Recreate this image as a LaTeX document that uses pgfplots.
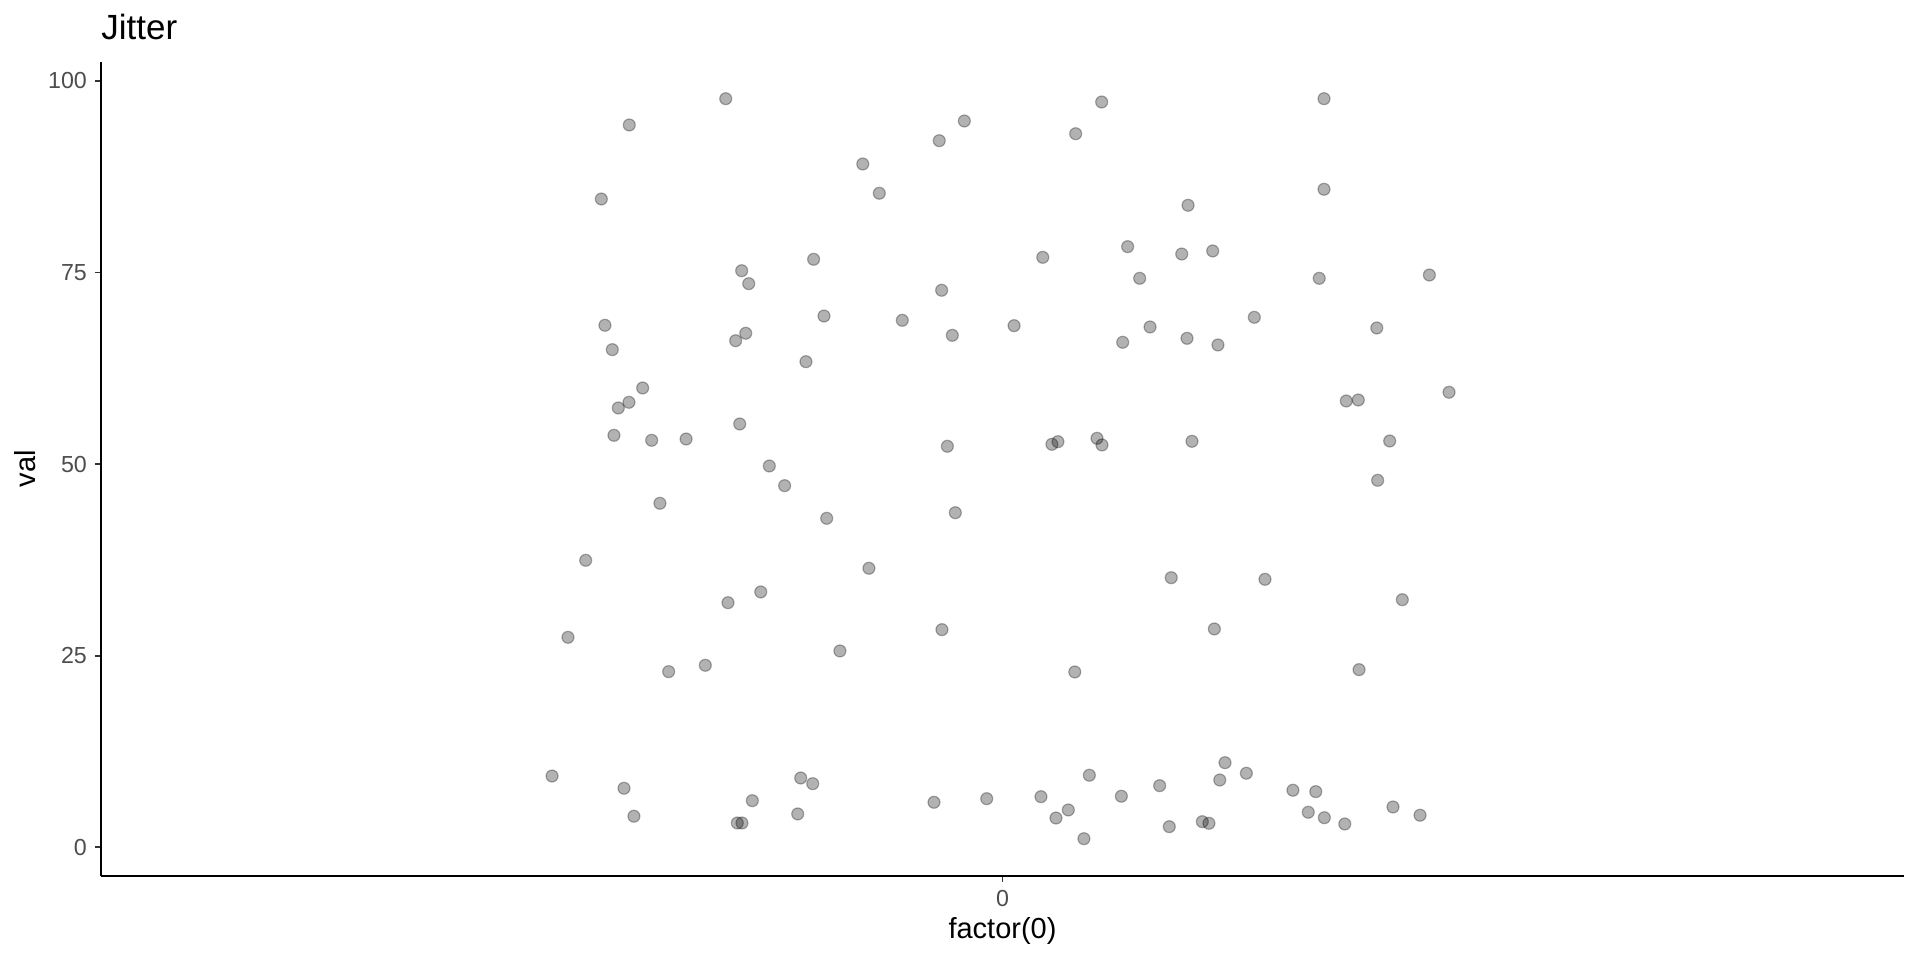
\documentclass[border=0pt]{standalone}
\usepackage{pgfplots}
\pgfplotsset{compat=1.18}
\usepackage{fontspec}
\setmainfont{Liberation Sans}
\definecolor{tickgray}{HTML}{4D4D4D}
\definecolor{tickline}{HTML}{333333}

\pgfplotstableread{
x y
-0.1842 97.69
-0.2484 94.26
-0.0254 94.78
-0.0421 92.21
-0.0930 89.17
-0.0820 85.35
-0.2670 84.60
-0.1257 76.73
-0.1736 75.24
-0.1689 73.55
-0.0405 72.69
-0.2646 68.12
-0.1188 69.33
-0.0667 68.77
-0.0334 66.81
-0.1709 67.08
-0.1776 66.11
-0.2597 64.94
-0.1308 63.37
-0.2395 59.94
-0.2486 58.07
-0.2557 57.33
-0.2586 53.76
-0.2335 53.11
-0.2106 53.28
-0.1749 55.24
-0.0367 52.33
-0.1552 49.76
0.0660 97.26
0.0487 93.12
0.2140 97.69
0.2140 85.87
0.1235 83.78
0.0833 78.38
0.0268 76.99
0.1193 77.42
0.1399 77.82
0.0913 74.25
0.2108 74.25
0.2841 74.68
0.0077 68.07
0.0982 67.90
0.0800 65.90
0.1228 66.42
0.1434 65.55
0.1676 69.16
0.2491 67.77
0.2288 58.24
0.2368 58.37
0.2972 59.38
0.0329 52.59
0.0369 52.93
0.0629 53.37
0.0662 52.50
0.1261 52.98
0.2577 53.02
-0.1450 47.19
-0.2280 44.89
-0.1170 42.93
-0.0314 43.66
-0.2774 37.45
-0.0889 36.41
-0.1609 33.32
-0.1827 31.92
-0.2892 27.40
-0.1082 25.62
-0.0403 28.40
-0.2222 22.92
-0.1978 23.75
-0.2998 9.30
-0.2519 7.70
-0.2453 4.05
-0.1343 9.04
-0.1263 8.30
-0.1665 6.08
-0.1363 4.35
-0.1765 3.17
-0.1734 3.17
-0.0456 5.87
-0.0105 6.34
0.2497 47.89
0.1123 35.18
0.1747 34.97
0.2661 32.31
0.1410 28.49
0.0481 22.88
0.2373 23.18
0.0256 6.60
0.0578 9.40
0.0438 4.87
0.0356 3.82
0.0542 1.12
0.0791 6.66
0.1046 8.04
0.1110 2.69
0.1330 3.34
0.1374 3.13
0.1481 11.04
0.1446 8.78
0.1623 9.66
0.1933 7.44
0.2085 7.26
0.2035 4.57
0.2142 3.86
0.2278 3.04
0.2599 5.26
0.2779 4.18
}\jitterdata

\begin{document}
\begin{tikzpicture}
\path[use as bounding box] (0,0) rectangle (960bp,480bp);
\begin{axis}[
  at={(50.5bp,42.15bp)}, anchor=south west,
  scale only axis, width=901.5bp, height=406.85bp,
  xmin=-0.6, xmax=0.6, ymin=-3.71, ymax=102.48,
  axis x line*=bottom, axis y line*=left,
  axis line style={-, black, line width=0.9bp},
  tick align=outside, major tick length=3bp,
  tick style={tickline, line width=0.9bp},
  xtick={0}, xticklabels={0},
  ytick={0,25,50,75,100},
  /pgf/number format/assume math mode=true,
  ticklabel style={font=\fontsize{11.6bp}{13bp}\selectfont, text=tickgray},
  xticklabel style={anchor=base, yshift=-12.5bp, inner sep=0pt},
  yticklabel style={anchor=east, inner sep=0pt, xshift=-3.85bp},
  xlabel={factor(0)}, ylabel={val},
  label style={font=\fontsize{14.5bp}{17bp}\selectfont},
  xlabel style={at={(axis description cs:0.5,-0.07693)}, anchor=base, inner sep=0pt},
  ylabel style={at={(axis description cs:-0.03627,0.5)}, anchor=base, inner sep=0pt},
  title={Jitter},
  every axis title/.style={at={(axis description cs:0,1.02704)}, anchor=base west, inner sep=0pt, font=\fontsize{17.5bp}{20bp}\selectfont},
]
\addplot[only marks, mark=*, mark size=3bp, mark options={fill=black, draw=black, opacity=0.3, line width=0.6bp}] table[x=x, y=y] {\jitterdata};
\end{axis}
\end{tikzpicture}
\end{document}
